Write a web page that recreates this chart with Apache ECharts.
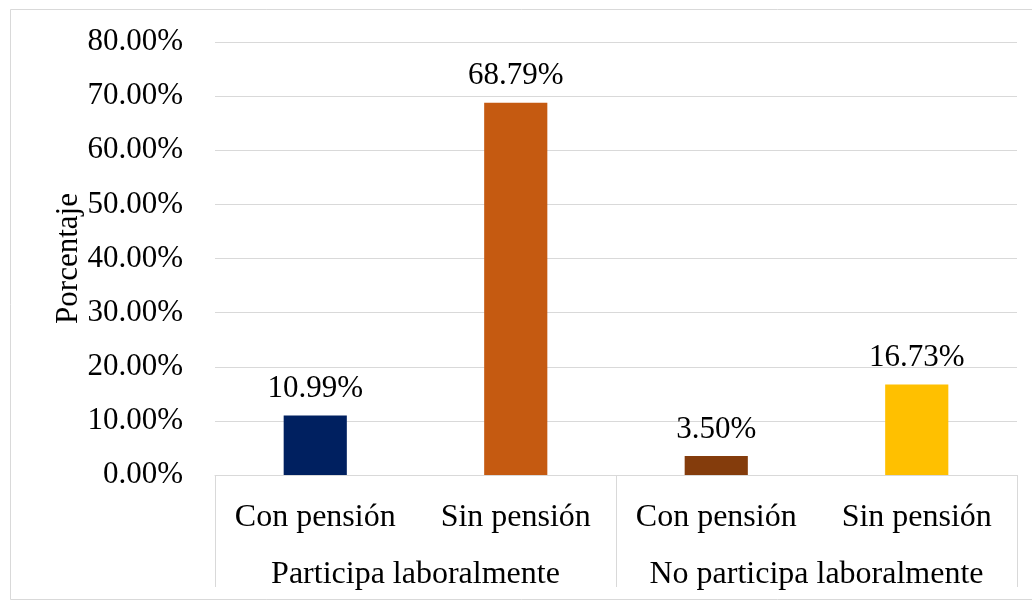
<!DOCTYPE html>
<html>
<head>
<meta charset="utf-8">
<script src="https://cdn.jsdelivr.net/npm/echarts@6/dist/echarts.min.js"></script>
<style>
html,body{margin:0;padding:0;background:#fff;}
#chart{width:1032px;height:601px;}
</style>
</head>
<body>
<div id="chart"></div>
<script>
var categories = ['Con pensión', 'Sin pensión', 'Con pensión', 'Sin pensión'];
var groups = ['Participa laboralmente', 'No participa laboralmente'];
var values = [10.99, 68.79, 3.50, 16.73];
var barColors = ['#002060', '#C55A11', '#843C0C', '#FFC000'];
var yTitle = 'Porcentaje';

var FONT = '"Liberation Serif", "Times New Roman", serif';
var chart = echarts.init(document.getElementById('chart'), null, {renderer: 'canvas'});
chart.setOption({
  animation: false,
  backgroundColor: '#fff',
  textStyle: {fontFamily: FONT},
  graphic: [{
    type: 'rect',
    shape: {x: 10.5, y: 9.5, width: 1040, height: 590},
    style: {fill: 'none', stroke: '#d9d9d9', lineWidth: 1},
    silent: true
  }],
  grid: {left: 215, right: 15, top: 42, bottom: 126, containLabel: false},
  xAxis: [{
    type: 'category',
    data: categories,
    position: 'bottom',
    axisLine: {show: true, lineStyle: {color: '#d9d9d9', width: 1}},
    axisTick: {show: false},
    axisLabel: {fontFamily: FONT, fontSize: 32, color: '#000', margin: 27, interval: 0}
  }, {
    type: 'category',
    data: groups,
    position: 'bottom',
    boundaryGap: true,
    axisLine: {show: false},
    axisTick: {show: true, length: 112, lineStyle: {color: '#d9d9d9', width: 1}},
    axisLabel: {fontFamily: FONT, fontSize: 32, color: '#000', margin: 84, interval: 0}
  }],
  yAxis: {
    type: 'value',
    min: 0, max: 80, interval: 10,
    name: yTitle,
    nameLocation: 'middle',
    nameGap: 131,
    nameMoveOverlap: false,
    nameTextStyle: {fontFamily: FONT, fontSize: 31, color: '#000'},
    axisLine: {show: false},
    axisTick: {show: false},
    splitLine: {lineStyle: {color: '#d9d9d9', width: 1}},
    axisLabel: {
      fontFamily: FONT, fontSize: 31, color: '#000', margin: 32,
      formatter: function (v) { return v.toFixed(2) + '%'; }
    }
  },
  series: [{
    type: 'bar',
    xAxisIndex: 0,
    data: values.map(function (v, i) { return {value: v, itemStyle: {color: barColors[i]}}; }),
    barWidth: '31.5%',
    label: {
      show: true, position: 'top', distance: 11,
      fontFamily: FONT, fontSize: 31, color: '#000',
      formatter: function (p) { return p.value.toFixed(2) + '%'; }
    }
  }]
});
</script>
</body>
</html>
